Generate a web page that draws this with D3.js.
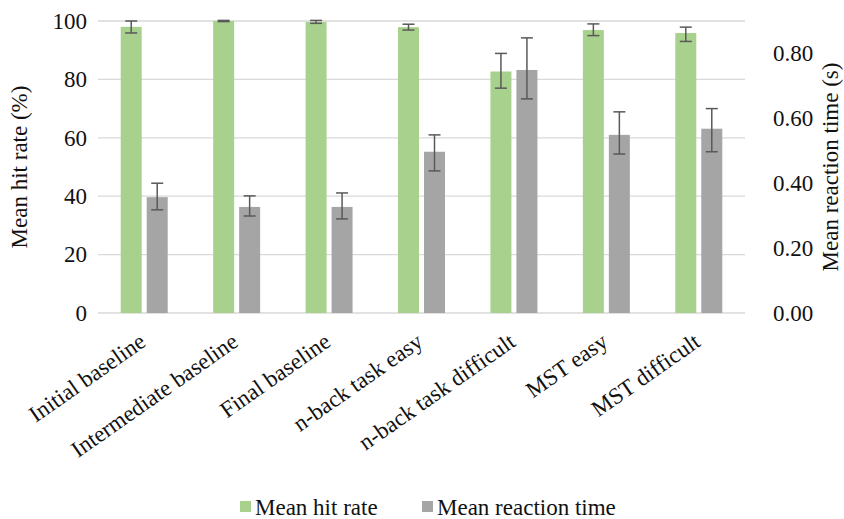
<!DOCTYPE html>
<html><head><meta charset="utf-8">
<script src="https://cdn.jsdelivr.net/npm/d3@7"></script>
</head><body style="margin:0;background:#fff"><svg id="c" width="844" height="519" style="display:block"></svg>
<script>
const categories = ["Initial baseline","Intermediate baseline","Final baseline","n-back task easy","n-back task difficult","MST easy","MST difficult"];
const hitRate    = [98.0, 100.0, 99.7, 97.9, 82.7, 96.9, 95.9];
const hitErrLo   = [95.9, 99.8, 99.2, 96.9, 77.0, 95.0, 93.0];
const hitErrHi   = [100.0, 100.2, 100.2, 98.9, 88.9, 99.0, 97.9];
const rtValues   = [0.357, 0.327, 0.327, 0.497, 0.749, 0.549, 0.568];
const rtErrLo    = [0.318, 0.299, 0.290, 0.438, 0.660, 0.490, 0.497];
const rtErrHi    = [0.400, 0.361, 0.370, 0.549, 0.848, 0.620, 0.630];
const leftTicks  = [0,20,40,60,80,100];
const rightTicks = [0,0.2,0.4,0.6,0.8];
const seriesNames = ["Mean hit rate","Mean reaction time"];
const colors = ["#a9d18e","#a5a5a5"];

const FS = 23;
const svg = d3.select("#c");
const L = 98, R = 745, T = 21, B = 313;
const x = d3.scaleBand().domain(categories).range([L,R]);
const yL = d3.scaleLinear().domain([0,100]).range([B,T]);
const yR = d3.scaleLinear().domain([0,0.9]).range([B,T]);
const bw = 21, gap = 5;
const font = sel => sel.attr("font-size",FS).attr("fill","#111")
  .style("font-family",'"Liberation Serif", "Times New Roman", serif');

svg.append("g").selectAll("line").data(leftTicks).join("line")
  .attr("x1",L).attr("x2",R).attr("y1",d=>yL(d)).attr("y2",d=>yL(d))
  .attr("stroke","#d9d9d9").attr("stroke-width",1.3);

const la = svg.append("g").attr("transform",`translate(${L-11},0)`)
  .call(d3.axisLeft(yL).tickValues(leftTicks).tickSize(0).tickPadding(0));
la.select(".domain").remove();
la.attr("font-family",null).attr("font-size",null);
la.selectAll("text").call(font);

const ra = svg.append("g").attr("transform",`translate(${R+28},0)`)
  .call(d3.axisRight(yR).tickValues(rightTicks).tickFormat(d3.format(".2f")).tickSize(0).tickPadding(0));
ra.select(".domain").remove();
ra.attr("font-family",null).attr("font-size",null);
ra.selectAll("text").call(font);

const g = svg.append("g");
categories.forEach((c,i)=>{
  const cx = x(c) + x.bandwidth()/2;
  const gx = cx - gap/2 - bw, rx = cx + gap/2;
  g.append("rect").attr("x",gx).attr("width",bw).attr("y",yL(hitRate[i])).attr("height",yL(0)-yL(hitRate[i])).attr("fill",colors[0]);
  g.append("rect").attr("x",rx).attr("width",bw).attr("y",yR(rtValues[i])).attr("height",yR(0)-yR(rtValues[i])).attr("fill",colors[1]);
  const eb = (mx, lo, hi) => {
    const e = g.append("g").attr("stroke","#595959").attr("stroke-width",1.5);
    e.append("line").attr("x1",mx).attr("x2",mx).attr("y1",lo).attr("y2",hi);
    e.append("line").attr("x1",mx-6).attr("x2",mx+6).attr("y1",lo).attr("y2",lo);
    e.append("line").attr("x1",mx-6).attr("x2",mx+6).attr("y1",hi).attr("y2",hi);
  };
  eb(gx+bw/2, yL(hitErrLo[i]), yL(hitErrHi[i]));
  eb(rx+bw/2, yR(rtErrLo[i]), yR(rtErrHi[i]));
});

svg.append("g").selectAll("text").data(categories).join("text").call(font)
  .attr("transform",d=>`translate(${x(d)+x.bandwidth()/2+3},${B+32}) rotate(-35)`)
  .attr("text-anchor","end").text(d=>d);

svg.append("text").call(font).attr("transform",`translate(27,${(T+B)/2}) rotate(-90)`)
  .attr("text-anchor","middle").text("Mean hit rate (%)");
svg.append("text").call(font).attr("transform",`translate(838,${(T+B)/2}) rotate(-90)`)
  .attr("text-anchor","middle").text("Mean reaction time (s)");

const lg = svg.append("g").attr("transform","translate(0,507)");
const items = [{n:seriesNames[0],c:colors[0],x:240},{n:seriesNames[1],c:colors[1],x:422}];
items.forEach(it=>{
  lg.append("rect").attr("x",it.x).attr("y",-6).attr("width",11).attr("height",11).attr("fill",it.c);
  lg.append("text").call(font).attr("x",it.x+15).attr("y",8).text(it.n);
});

// force layout so fonts resolve before capture
svg.selectAll("text").each(function(){ this.getComputedTextLength(); });
</script></body></html>
